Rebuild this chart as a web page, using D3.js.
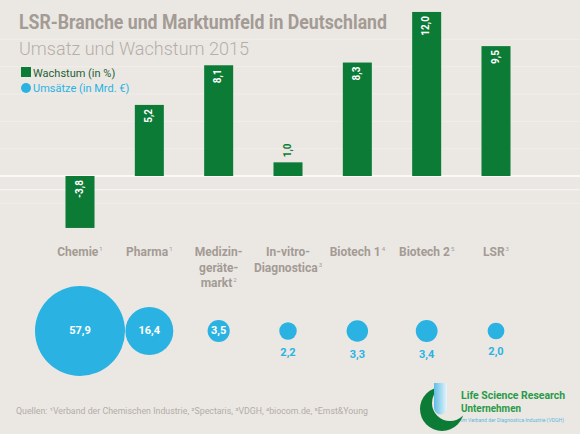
<!DOCTYPE html>
<html><head><meta charset="utf-8">
<script src="https://cdn.jsdelivr.net/npm/d3@7"></script>
<style>
html,body{margin:0;padding:0;background:#ebe8e4;}
svg{display:block;}
</style></head>
<body>
<script>
const categories = ["Chemie", "Pharma", "Medizin-geräte-markt", "In-vitro-Diagnostica", "Biotech 1", "Biotech 2", "LSR"];
const categoryLines = [["Chemie"], ["Pharma"], ["Medizin-", "geräte-", "markt"], ["In-vitro-", "Diagnostica"], ["Biotech 1"], ["Biotech 2"], ["LSR"]];
const sourceMarks = ["1", "1", "2", "3", "4", "5", "3"];
const wachstum = [-3.8, 5.2, 8.1, 1.0, 8.3, 12.0, 9.5];
const umsatz = [57.9, 16.4, 3.5, 2.2, 3.3, 3.4, 2.0];
const title = "LSR-Branche und Marktumfeld in Deutschland";
const subtitle = "Umsatz und Wachstum 2015";
const legendLabels = ["Wachstum (in %)", "Umsätze (in Mrd. €)"];
const footer = "Quellen: ¹Verband der Chemischen Industrie, ²Spectaris, ³VDGH, ⁴biocom.de, ⁵Ernst&Young";

const W = 580, H = 434;
const GREEN = "#0b7b36", BLUE = "#2ab3e2", GREY = "#a39b94";
const fmt = v => v.toFixed(1).replace(".", ",");

const svg = d3.select("body").append("svg").attr("width", W).attr("height", H);
svg.append("rect").attr("width", W).attr("height", H).attr("fill", "#ebe8e4");

const x = d3.scalePoint().domain(categories).range([80, 496]);
const y = d3.scaleLinear().domain([-4, 12]).range([176 + 4 * 13.67, 176 - 12 * 13.67]);
const r = d3.scaleSqrt().domain([0, d3.max(umsatz)]).range([0, 45]);
const bw = 29;

// faint gridlines
const grid = svg.append("g");
[-2, 2, 4, 6, 8, 10].forEach(v => {
  grid.append("line").attr("x1", 0).attr("x2", W).attr("y1", y(v)).attr("y2", y(v))
    .attr("stroke", "#f6f4f1").attr("stroke-width", 1).attr("opacity", 0.45);
});
grid.append("line").attr("x1", 0).attr("x2", W).attr("y1", y(-1)).attr("y2", y(-1))
  .attr("stroke", "#f6f4f2").attr("stroke-width", 1.2);
grid.append("line").attr("x1", 0).attr("x2", W).attr("y1", y(0)).attr("y2", y(0))
  .attr("stroke", "#ffffff").attr("stroke-width", 1.5);

// Title
svg.append("text").attr("x", 19).attr("y", 29).text(title)
  .attr("font-family", "Roboto, 'Open Sans', sans-serif").attr("font-weight", 700)
  .attr("font-size", 20).attr("fill", GREY).attr("textLength", 368).attr("lengthAdjust", "spacingAndGlyphs");
svg.append("text").attr("x", 19).attr("y", 55).text(subtitle)
  .attr("font-family", "Roboto, 'Open Sans', sans-serif").attr("font-weight", 300)
  .attr("font-size", 18).attr("fill", "#b5aea8").attr("textLength", 230).attr("lengthAdjust", "spacingAndGlyphs");

// Legend
svg.append("rect").attr("x", 21).attr("y", 67).attr("width", 10).attr("height", 10).attr("fill", GREEN);
svg.append("text").attr("x", 33).attr("y", 77).text(legendLabels[0])
  .attr("font-family", "Roboto, sans-serif").attr("font-size", 11).attr("fill", "#1f5f33");
svg.append("circle").attr("cx", 26).attr("cy", 88).attr("r", 5).attr("fill", BLUE);
svg.append("text").attr("x", 33).attr("y", 92).text(legendLabels[1])
  .attr("font-family", "Roboto, sans-serif").attr("font-size", 11).attr("fill", BLUE);

// Bars
const bars = svg.append("g");
categories.forEach((c, i) => {
  const v = wachstum[i];
  const y0 = y(Math.max(0, v)), y1 = y(Math.min(0, v));
  bars.append("rect").attr("x", x(c) - bw / 2).attr("y", y0).attr("width", bw).attr("height", y1 - y0).attr("fill", GREEN);
  const h = y1 - y0;
  const lbl = bars.append("text").text(fmt(v))
    .attr("font-family", "Roboto, sans-serif").attr("font-weight", 700).attr("font-size", 10)
    .attr("dominant-baseline", "middle");
  if (h > 30) {
    lbl.attr("transform", `translate(${x(c)},${y0 + 4}) rotate(-90)`).attr("text-anchor", "end").attr("fill", "#fff");
  } else {
    lbl.attr("transform", `translate(${x(c)},${y0 - 5}) rotate(-90)`).attr("text-anchor", "start").attr("fill", GREEN);
  }
});

// Category labels
const cl = svg.append("g");
categories.forEach((c, i) => {
  const lines = categoryLines[i];
  lines.forEach((ln, j) => {
    const t = cl.append("text").attr("x", x(c)).attr("y", 256 + j * 15.5).attr("text-anchor", "middle")
      .attr("font-family", "Roboto, sans-serif").attr("font-weight", 700).attr("font-size", 12).attr("fill", GREY);
    t.append("tspan").text(ln);
    if (j === lines.length - 1) {
      t.append("tspan").text(sourceMarks[i]).attr("font-size", 6).attr("dy", -5).attr("dx", 1).attr("font-weight", 400);
    }
  });
});

// Bubbles
const bub = svg.append("g");
const cy = 331;
const insideSet = new Set(["Chemie", "Pharma", "Medizin-geräte-markt"]);
categories.forEach((c, i) => {
  const rr = r(umsatz[i]);
  bub.append("circle").attr("cx", x(c)).attr("cy", cy).attr("r", rr).attr("fill", BLUE);
  const inside = insideSet.has(c);
  bub.append("text").text(fmt(umsatz[i])).attr("x", x(c)).attr("y", inside ? cy : cy + rr + 13)
    .attr("text-anchor", "middle").attr("dominant-baseline", "middle")
    .attr("font-family", "Roboto, sans-serif").attr("font-weight", 700).attr("font-size", 11)
    .attr("fill", inside ? "#fff" : BLUE);
});

// Footer
svg.append("text").attr("x", 16).attr("y", 414).text(footer)
  .attr("font-family", "Roboto, sans-serif").attr("font-size", 8.5).attr("fill", "#b3aca6")
  .attr("textLength", 352).attr("lengthAdjust", "spacingAndGlyphs");

// Logo
const defs = svg.append("defs");
const mask = defs.append("mask").attr("id", "cres");
mask.append("rect").attr("x", 400).attr("y", 370).attr("width", 100).attr("height", 70).attr("fill", "#fff");
mask.append("circle").attr("cx", 450).attr("cy", 403).attr("r", 18).attr("fill", "#000");
const grad = defs.append("linearGradient").attr("id", "drop").attr("x1", "0").attr("x2", "1").attr("y1", "0").attr("y2", "0");
grad.append("stop").attr("offset", "0").attr("stop-color", "#5fbde6");
grad.append("stop").attr("offset", "1").attr("stop-color", "#e6f4fb");
const logo = svg.append("g");
logo.append("circle").attr("cx", 442).attr("cy", 409).attr("r", 22).attr("fill", GREEN).attr("mask", "url(#cres)");
logo.append("path").attr("d", "M434,383 L447,383 L447,408 A6.5,6.5 0 0 1 434,408 Z").attr("fill", "url(#drop)");
logo.append("text").attr("x", 461).attr("y", 399).text("Life Science Research")
  .attr("font-family", "Roboto, sans-serif").attr("font-weight", 700).attr("font-size", 11.5).attr("fill", "#2a9a48")
  .attr("textLength", 104).attr("lengthAdjust", "spacingAndGlyphs");
logo.append("text").attr("x", 461).attr("y", 412).text("Unternehmen")
  .attr("font-family", "Roboto, sans-serif").attr("font-weight", 700).attr("font-size", 11.5).attr("fill", "#2a9a48")
  .attr("textLength", 60).attr("lengthAdjust", "spacingAndGlyphs");
logo.append("text").attr("x", 461).attr("y", 422).text("im Verband der Diagnostica-Industrie (VDGH)")
  .attr("font-family", "Roboto, sans-serif").attr("font-size", 5).attr("fill", "#5bb9dd")
  .attr("textLength", 103).attr("lengthAdjust", "spacingAndGlyphs");
</script>
</body></html>
